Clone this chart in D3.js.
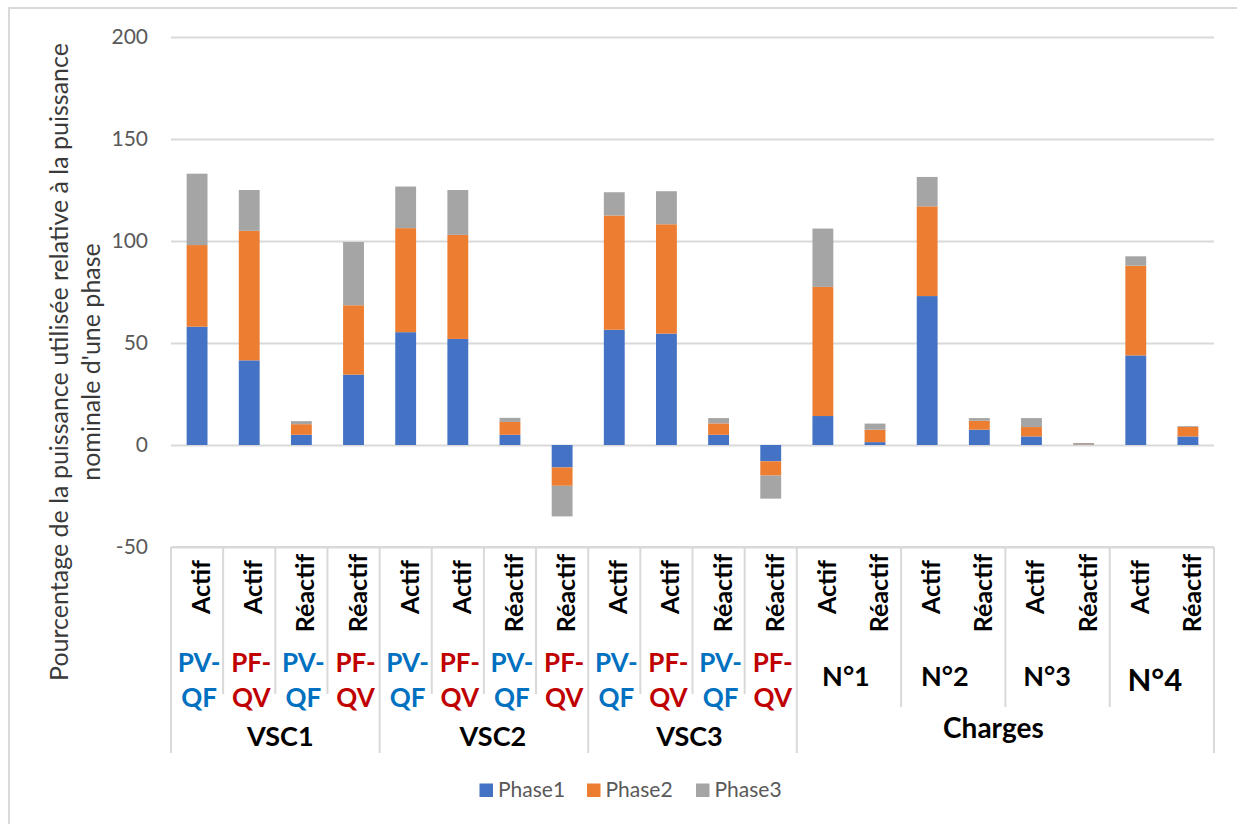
<!DOCTYPE html>
<html>
<head>
<meta charset="utf-8">
<script src="https://cdn.jsdelivr.net/npm/d3@7"></script>
<style>
  html, body { margin: 0; padding: 0; background: #fff; }
  svg { display: block; }
</style>
</head>
<body>
<svg id="chart" width="1237" height="824"></svg>
<script>
// ---- data ----
const categories = ["Actif","Actif","Réactif","Réactif",
                    "Actif","Actif","Réactif","Réactif",
                    "Actif","Actif","Réactif","Réactif",
                    "Actif","Réactif","Actif","Réactif","Actif","Réactif","Actif","Réactif"];
const modes = ["PV-QF","PF-QV","PV-QF","PF-QV",
               "PV-QF","PF-QV","PV-QF","PF-QV",
               "PV-QF","PF-QV","PV-QF","PF-QV",
               "N°1","N°1","N°2","N°2","N°3","N°3","N°4","N°4"];
const groupOf = ["VSC1","VSC1","VSC1","VSC1",
                 "VSC2","VSC2","VSC2","VSC2",
                 "VSC3","VSC3","VSC3","VSC3",
                 "Charges","Charges","Charges","Charges","Charges","Charges","Charges","Charges"];
const seriesNames = ["Phase1","Phase2","Phase3"];
const phase1 = [58, 41.5, 5, 34.5,  55.3, 52, 5, -11,  56.5, 54.6, 5, -8,  14.2, 1.4, 73, 7.5, 4.2, 0.2, 43.9, 4.2];
const phase2 = [40, 63.5, 5.2, 34,  51, 51, 6.3, -9,   56, 53.6, 5.6, -7,  63.3, 6.1, 44, 4.4, 4.6, 0.2, 44, 4.7];
const phase3 = [35, 20, 1.5, 31,    20.4, 22, 2, -15,  11.4, 16.2, 2.6, -11.3, 28.6, 3, 14.4, 1.3, 4.4, 0.6, 4.6, 0.4];
const yTicks = [-50, 0, 50, 100, 150, 200];
const yTitle = ["Pourcentage de la puissance utilisée relative à la puissance", "nominale d'une phase"];

// ---- layout ----
const colors = { Phase1: "#4472C4", Phase2: "#ED7D31", Phase3: "#A5A5A5" };
const modeColors = { "PV-QF": "#0070C0", "PF-QV": "#C00000" };
const plot = { left: 171, right: 1214, top: 37, bottom: 547 };
const gridColor = "#d9d9d9";
const FONT = "Lato, 'Open Sans', sans-serif";
const groupLabelDx = { VSC1: 5, VSC2: 9, VSC3: -3, Charges: -12 };
const groupLabelY = { VSC1: 746, VSC2: 746, VSC3: 746, Charges: 738 };
const modeLabelDx = { "N°1": -3, "N°2": -8.5, "N°3": -10.5, "N°4": -7 };

const svg = d3.select("#chart");

// chart frame
svg.append("rect")
  .attr("x", 9).attr("y", 8).attr("width", 1260).attr("height", 840)
  .attr("fill", "#fff").attr("stroke", gridColor).attr("stroke-width", 2);

const idx = d3.range(categories.length);
const x = d3.scaleBand().domain(idx).range([plot.left, plot.right])
  .paddingInner(0.6).paddingOuter(0.3);
const step = x.step();
const y = d3.scaleLinear().domain([-50, 200]).range([plot.bottom, plot.top]);

// gridlines + tick labels
const yAxis = d3.axisLeft(y).tickValues(yTicks)
  .tickSize(-(plot.right - plot.left)).tickPadding(23).tickFormat(d => String(d));
const ga = svg.append("g").attr("transform", `translate(${plot.left},0)`).call(yAxis);
ga.select(".domain").remove();
ga.selectAll(".tick line").attr("stroke", gridColor).attr("stroke-width", 2);
ga.selectAll(".tick text")
  .attr("font-family", FONT).attr("font-size", 21).attr("fill", "#595959");

// stacked bars
const rows = idx.map(i => ({ i, Phase1: phase1[i], Phase2: phase2[i], Phase3: phase3[i] }));
const stacked = d3.stack().keys(seriesNames).offset(d3.stackOffsetDiverging)(rows);
svg.append("g").selectAll("g").data(stacked).join("g")
  .attr("fill", s => colors[s.key])
  .selectAll("rect").data(s => s).join("rect")
  .attr("x", d => x(d.data.i))
  .attr("width", x.bandwidth())
  .attr("y", d => y(Math.max(d[0], d[1])))
  .attr("height", d => Math.abs(y(d[0]) - y(d[1])));

// y-axis title
const title = svg.append("text")
  .attr("transform", "translate(68,362) rotate(-90)")
  .attr("text-anchor", "middle")
  .attr("font-family", FONT).attr("font-size", 25).attr("fill", "#3a3a3a");
title.selectAll("tspan").data(yTitle).join("tspan")
  .attr("x", 0).attr("dy", (d, k) => k === 0 ? 0 : 32).text(d => d);

// ---- multi-level category axis ----
function runs(keyFn) {
  const out = [];
  idx.forEach(i => {
    const k = keyFn(i);
    if (out.length && out[out.length - 1].key === k) out[out.length - 1].end = i;
    else out.push({ key: k, start: i, end: i, group: groupOf[i], mode: modes[i] });
  });
  return out;
}
const modeRuns = runs(i => groupOf[i] + "|" + modes[i]);
const groupRuns = runs(i => groupOf[i]);
const edgeX = i => plot.left + step * i;

const axisG = svg.append("g");
axisG.append("line")
  .attr("x1", plot.left).attr("x2", plot.right).attr("y1", plot.bottom).attr("y2", plot.bottom)
  .attr("stroke", gridColor).attr("stroke-width", 2);

// separators between level-2 labels inside a group
modeRuns.forEach((r, k) => {
  if (k === 0) return;
  if (modeRuns[k - 1].group !== r.group) return;
  const wrapped = r.mode.includes("-");
  axisG.append("line")
    .attr("x1", edgeX(r.start)).attr("x2", edgeX(r.start))
    .attr("y1", plot.bottom).attr("y2", wrapped ? 694 : 707)
    .attr("stroke", gridColor).attr("stroke-width", 2);
});
// separators between top-level groups (and outer edges)
const groupEdges = groupRuns.map(r => r.start).concat([categories.length]);
groupEdges.forEach(i => {
  axisG.append("line")
    .attr("x1", edgeX(i)).attr("x2", edgeX(i))
    .attr("y1", plot.bottom).attr("y2", 753)
    .attr("stroke", gridColor).attr("stroke-width", 2);
});

// level 1: rotated leaf labels
idx.forEach(i => {
  const cx = x(i) + x.bandwidth() / 2;
  const cy = categories[i] === "Réactif" ? 593 : 587;
  axisG.append("text")
    .attr("transform", `translate(${cx + 13},${cy}) rotate(-90)`)
    .attr("text-anchor", "middle")
    .attr("font-family", FONT).attr("font-weight", 700).attr("font-size", 25)
    .attr("fill", "#000").text(categories[i]);
});

// level 2: operating mode / load number
modeRuns.forEach(r => {
  const cx = (edgeX(r.start) + edgeX(r.end + 1)) / 2;
  if (r.mode.includes("-")) {
    const parts = [r.mode.slice(0, r.mode.indexOf("-") + 1), r.mode.slice(r.mode.indexOf("-") + 1)];
    axisG.append("text")
      .attr("text-anchor", "middle")
      .attr("font-family", FONT).attr("font-weight", 700).attr("font-size", 26)
      .attr("fill", modeColors[r.mode])
      .selectAll("tspan").data(parts).join("tspan")
      .attr("x", cx + 2).attr("y", (d, k) => k === 0 ? 672 : 707).text(d => d);
  } else {
    const big = r.mode === "N°4";
    axisG.append("text")
      .attr("x", cx + (modeLabelDx[r.mode] || 0)).attr("y", big ? 691 : 686)
      .attr("text-anchor", "middle")
      .attr("font-family", FONT).attr("font-weight", 700).attr("font-size", big ? 31 : 27)
      .attr("fill", "#000").text(r.mode);
  }
});

// level 3: groups
groupRuns.forEach(r => {
  const cx = (edgeX(r.start) + edgeX(r.end + 1)) / 2;
  axisG.append("text")
    .attr("x", cx + groupLabelDx[r.key]).attr("y", groupLabelY[r.key])
    .attr("text-anchor", "middle")
    .attr("font-family", FONT).attr("font-weight", 700)
    .attr("font-size", r.key === "Charges" ? 28 : 27)
    .attr("fill", "#000").text(r.key);
});

// ---- legend ----
const legendX = [479.5, 587, 696];
const lg = svg.append("g").selectAll("g").data(seriesNames).join("g")
  .attr("transform", (d, k) => `translate(${legendX[k]},783.5)`);
lg.append("rect").attr("width", 13.5).attr("height", 13.5).attr("fill", d => colors[d]);
lg.append("text").attr("x", 18.5).attr("y", 13.5)
  .attr("font-family", FONT).attr("font-size", 21).attr("fill", "#595959").text(d => d);
</script>
</body>
</html>
